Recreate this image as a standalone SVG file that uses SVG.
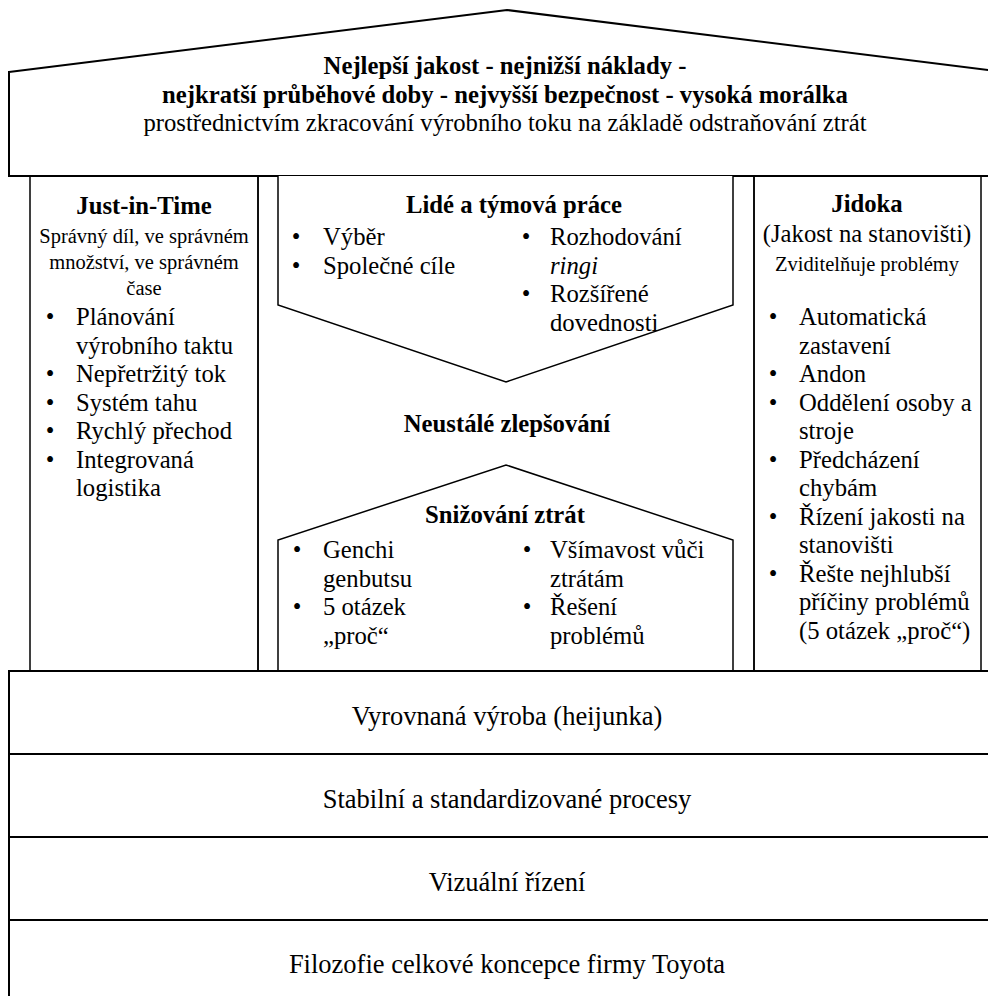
<svg xmlns="http://www.w3.org/2000/svg" width="988" height="996" viewBox="0 0 988 996">
<style>
  .frame{fill:#fff;stroke:#000;stroke-width:2;stroke-linejoin:miter}
  .pill{fill:none;stroke:#000;stroke-width:1.5}
  .shape{fill:#fff;stroke:#000;stroke-width:1.5;stroke-linejoin:miter}
  text{font-family:'Liberation Serif',serif;fill:#000}
  .b{font-size:24.7px;font-weight:bold}
  .n{font-size:24.7px}
  .s{font-size:20.5px}
  .band{font-size:26.5px}
  .c{text-anchor:middle}
  .i{font-style:italic}
</style>
<rect width="988" height="996" fill="#fff"/>

<g id="roof">
  <path class="frame" d="M9,72 L507,10 L1005,72 L1005,176 L9,176 Z"/>
  <text class="b c" x="505" y="74">Nejlepší jakost - nejnižší náklady -</text>
  <text class="b c" x="505" y="102.5">nejkratší průběhové doby - nejvyšší bezpečnost - vysoká morálka</text>
  <text class="n c" x="505" y="131">prostřednictvím zkracování výrobního toku na základě odstraňování ztrát</text>
</g>

<g id="pillar-jit">
  <rect class="pill" x="30" y="176" width="228" height="495"/>
  <text class="b c" x="144" y="214">Just-in-Time</text>
  <text class="s c" x="144" y="243">Správný díl, ve správném</text>
  <text class="s c" x="144" y="269">množství, ve správném</text>
  <text class="s c" x="144" y="295">čase</text>
  <text class="n c" x="50" y="325">•</text><text class="n" x="76" y="325">Plánování</text>
  <text class="n" x="76" y="353.5">výrobního taktu</text>
  <text class="n c" x="50" y="382">•</text><text class="n" x="76" y="382">Nepřetržitý tok</text>
  <text class="n c" x="50" y="410.5">•</text><text class="n" x="76" y="410.5">Systém tahu</text>
  <text class="n c" x="50" y="439">•</text><text class="n" x="76" y="439">Rychlý přechod</text>
  <text class="n c" x="50" y="467.5">•</text><text class="n" x="76" y="467.5">Integrovaná</text>
  <text class="n" x="76" y="496">logistika</text>
</g>

<g id="pillar-middle">
  <rect class="pill" x="258" y="176" width="496" height="495"/>
</g>

<g id="people-teamwork">
  <path class="shape" d="M278,176 L278,305 L506,382 L733,305 L733,176"/>
  <text class="b c" x="514" y="213">Lidé a týmová práce</text>
  <text class="n c" x="296" y="245">•</text><text class="n" x="323" y="245">Výběr</text>
  <text class="n c" x="296" y="273.5">•</text><text class="n" x="323" y="273.5">Společné cíle</text>
  <text class="n c" x="526" y="245">•</text><text class="n" x="550" y="245">Rozhodování</text>
  <text class="n i" x="550" y="273.5">ringi</text>
  <text class="n c" x="526" y="302">•</text><text class="n" x="550" y="302">Rozšířené</text>
  <text class="n" x="550" y="330.5">dovednosti</text>
</g>

<g id="continuous-improvement">
  <text class="b c" x="507" y="432">Neustálé zlepšování</text>
</g>

<g id="waste-reduction">
  <path class="shape" d="M278,671 L278,540 L506,465 L733,540 L733,671"/>
  <text class="b c" x="505" y="523">Snižování ztrát</text>
  <text class="n c" x="297" y="558">•</text><text class="n" x="323" y="558">Genchi</text>
  <text class="n" x="323" y="586.5">genbutsu</text>
  <text class="n c" x="297" y="615">•</text><text class="n" x="323" y="615">5 otázek</text>
  <text class="n" x="323" y="643.5">„proč“</text>
  <text class="n c" x="527" y="558">•</text><text class="n" x="550" y="558">Všímavost vůči</text>
  <text class="n" x="550" y="586.5">ztrátám</text>
  <text class="n c" x="527" y="615">•</text><text class="n" x="550" y="615">Řešení</text>
  <text class="n" x="550" y="643.5">problémů</text>
</g>

<g id="pillar-jidoka">
  <rect class="pill" x="754" y="176" width="227" height="495"/>
  <text class="b c" x="867" y="212">Jidoka</text>
  <text class="n c" x="867" y="242">(Jakost na stanovišti)</text>
  <text class="s c" x="867" y="271">Zviditelňuje problémy</text>
  <text class="n c" x="773" y="325">•</text><text class="n" x="799" y="325">Automatická</text>
  <text class="n" x="799" y="353.5">zastavení</text>
  <text class="n c" x="773" y="382">•</text><text class="n" x="799" y="382">Andon</text>
  <text class="n c" x="773" y="410.5">•</text><text class="n" x="799" y="410.5">Oddělení osoby a</text>
  <text class="n" x="799" y="439">stroje</text>
  <text class="n c" x="773" y="467.5">•</text><text class="n" x="799" y="467.5">Předcházení</text>
  <text class="n" x="799" y="496">chybám</text>
  <text class="n c" x="773" y="524.5">•</text><text class="n" x="799" y="524.5">Řízení jakosti na</text>
  <text class="n" x="799" y="553">stanovišti</text>
  <text class="n c" x="773" y="581.5">•</text><text class="n" x="799" y="581.5">Řešte nejhlubší</text>
  <text class="n" x="799" y="610">příčiny problémů</text>
  <text class="n" x="799" y="638.5">(5 otázek „proč“)</text>
</g>

<g id="band-heijunka">
  <rect class="frame" x="9" y="671" width="996" height="83"/>
  <text class="band c" x="507" y="725">Vyrovnaná výroba (heijunka)</text>
</g>
<g id="band-standard">
  <rect class="frame" x="9" y="754" width="996" height="83"/>
  <text class="band c" x="507" y="808">Stabilní a standardizované procesy</text>
</g>
<g id="band-visual">
  <rect class="frame" x="9" y="837" width="996" height="83"/>
  <text class="band c" x="507" y="891">Vizuální řízení</text>
</g>
<g id="band-philosophy">
  <rect class="frame" x="9" y="920" width="996" height="83"/>
  <text class="band c" x="507" y="973">Filozofie celkové koncepce firmy Toyota</text>
</g>

<g id="connectors"></g>
</svg>
